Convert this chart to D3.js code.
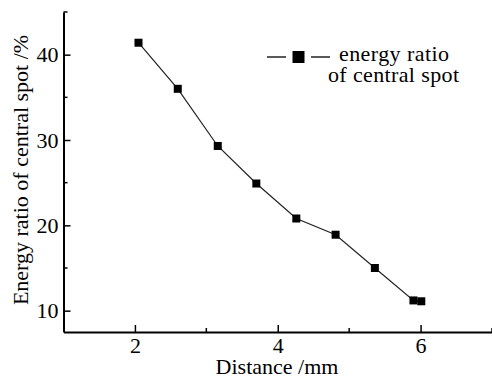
<!DOCTYPE html>
<html>
<head>
<meta charset="utf-8">
<script src="https://cdn.jsdelivr.net/npm/d3@7"></script>
<style>
  body { margin: 0; background: #fff; }
  svg text { font-family: "Liberation Serif", "Times New Roman", serif; fill: #000; }
</style>
</head>
<body>
<div id="chart"></div>
<script>
// values
const distance = [2.05, 2.6, 3.16, 3.7, 4.26, 4.81, 5.36, 5.9, 6.01];
const energyRatio = [41.4, 36.0, 29.3, 24.9, 20.8, 18.9, 15.0, 11.2, 11.1];
const xTicks = [2, 4, 6];
const xMinor = [3, 5, 7];
const yTicks = [10, 20, 30, 40];
const yMinor = [15, 25, 35, 45];
const legendLines = ['energy ratio', 'of central spot'];

const width = 492, height = 376;
const fontSize = 22;
const serif = '"Liberation Serif", "Times New Roman", serif';

const svg = d3.select('#chart')
  .append('svg')
  .attr('width', width)
  .attr('height', height);

const x = d3.scaleLinear().domain([1, 7]).range([63.5, 492]);
const y = d3.scaleLinear().domain([7.5, 45]).range([332, 12]);

// axes: ticks point inwards
const xAxis = svg.append('g')
  .attr('transform', `translate(0, ${y(7.5)})`);
xAxis.call(d3.axisBottom(x).tickValues(xTicks).tickSize(-7).tickPadding(9).tickSizeOuter(0).tickFormat(d3.format('d')));
xAxis.selectAll('.minor')
  .data(xMinor)
  .enter()
  .append('line')
  .attr('class', 'minor')
  .attr('x1', d => x(d)).attr('x2', d => x(d))
  .attr('y1', 0).attr('y2', -4)
  .attr('stroke', '#000').attr('stroke-width', 1.5);

const yAxis = svg.append('g')
  .attr('transform', `translate(${x(1)}, 0)`);
yAxis.call(d3.axisLeft(y).tickValues(yTicks).tickSize(-7).tickPadding(5).tickSizeOuter(0).tickFormat(d3.format('d')));
yAxis.selectAll('.minor')
  .data(yMinor)
  .enter()
  .append('line')
  .attr('class', 'minor')
  .attr('y1', d => y(d)).attr('y2', d => y(d))
  .attr('x1', 0).attr('x2', 4)
  .attr('stroke', '#000').attr('stroke-width', 1.5);

svg.selectAll('g').attr('font-family', serif).attr('font-size', fontSize);
svg.selectAll('.domain').attr('stroke', '#000').attr('stroke-width', 2);
svg.selectAll('.tick line').attr('stroke', '#000').attr('stroke-width', 1.5);
svg.selectAll('.tick text')
  .attr('font-family', serif)
  .attr('font-size', fontSize)
  .attr('fill', '#000');
xAxis.selectAll('.tick text').attr('dy', '0.55em');
yAxis.selectAll('.tick text').attr('dy', '0.33em');

// axis titles
svg.append('text')
  .attr('x', 277)
  .attr('y', 374)
  .attr('text-anchor', 'middle')
  .attr('font-size', fontSize)
  .text('Distance /mm');

svg.append('text')
  .attr('transform', 'translate(28, 170) rotate(-90)')
  .attr('text-anchor', 'middle')
  .attr('font-size', fontSize)
  .text('Energy ratio of central spot /%');

// series
const data = distance.map((d, i) => ({ x: d, y: energyRatio[i] }));

svg.append('path')
  .datum(data)
  .attr('fill', 'none')
  .attr('stroke', '#222')
  .attr('stroke-width', 1.2)
  .attr('d', d3.line().x(d => x(d.x)).y(d => y(d.y)));

const m = 8;
svg.selectAll('.pt')
  .data(data)
  .enter()
  .append('rect')
  .attr('class', 'pt')
  .attr('x', d => x(d.x) - m / 2)
  .attr('y', d => y(d.y) - m / 2)
  .attr('width', m)
  .attr('height', m)
  .attr('fill', '#000');

// legend
const legend = svg.append('g');
legend.append('line')
  .attr('x1', 267).attr('x2', 330)
  .attr('y1', 57).attr('y2', 57)
  .attr('stroke', '#222').attr('stroke-width', 1.5);
legend.append('rect')
  .attr('x', 286).attr('y', 50)
  .attr('width', 25).attr('height', 14)
  .attr('fill', '#fff');
legend.append('rect')
  .attr('x', 292.5).attr('y', 51)
  .attr('width', 12).attr('height', 12)
  .attr('fill', '#000');
legend.append('text')
  .attr('x', 339)
  .attr('y', 61)
  .attr('font-size', fontSize)
  .attr('textLength', 110)
  .text(legendLines[0]);
legend.append('text')
  .attr('x', 328)
  .attr('y', 82)
  .attr('font-size', fontSize)
  .attr('textLength', 131)
  .text(legendLines[1]);
</script>
</body>
</html>
